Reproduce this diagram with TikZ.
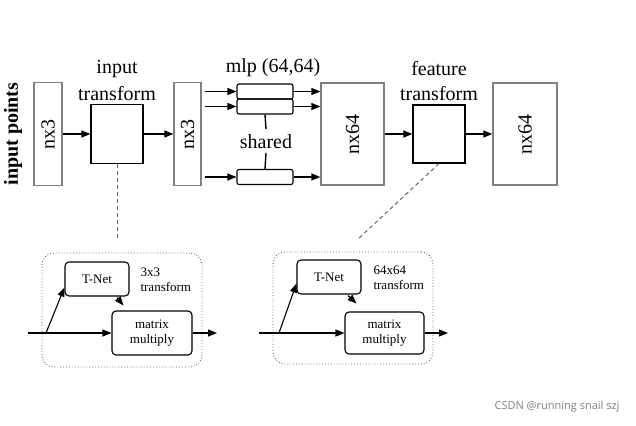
\documentclass[tikz,border=0pt]{standalone}
\usepackage{fontspec}
\setmainfont{Liberation Serif}
\newfontfamily\wmfont{Open Sans}
\usetikzlibrary{arrows.meta}
\begin{document}
\begin{tikzpicture}[x=1pt,y=-1pt,
  font=\fontsize{20}{22}\selectfont,
  bigbox/.style={draw=black!50, line width=1.3pt, inner sep=0pt},
  tbox/.style={draw=black, line width=1.2pt, inner sep=0pt},
  mbox/.style={draw=black, line width=1.1pt, rounded corners=2pt, minimum width=56pt, minimum height=15pt, inner sep=0pt},
  sbox/.style={draw=black, line width=1.1pt, rounded corners=4pt, inner sep=0pt, font=\fontsize{13}{15}\selectfont, align=center},
  dotbox/.style={draw=black!60, dotted, line width=0.9pt, rounded corners=12pt, inner sep=0pt},
  small/.style={font=\fontsize{13}{15}\selectfont, align=left},
  arr/.style={-{Triangle[length=9pt,width=7pt]}, line width=1.1pt},
  dashlink/.style={draw=black!60, line width=1pt, dash pattern=on 4pt off 3pt}]
\useasboundingbox (0,0) rectangle (636,425);

% top row
\node[font=\fontsize{20}{22}\selectfont\bfseries, rotate=90] (ip) at (13,134) {input points};
\node[bigbox, minimum width=28pt, minimum height=103pt] (a) at (48,134) {\rotatebox{90}{nx3}};
\node[tbox, minimum width=52pt, minimum height=59pt] (it) at (117,134) {};
\node (itl1) at (117,69) {input};
\node (itl2) at (117,94) {transform};
\node[bigbox, minimum width=27pt, minimum height=103pt] (b) at (187.5,134) {\rotatebox{90}{nx3}};
\node[mbox] (m1) at (265,91.5) {};
\node[mbox] (m2) at (265,106.5) {};
\node[mbox] (m3) at (265,177) {};
\node[inner sep=0pt] (sh) at (266,142) {shared};
\node (mlp) at (273,68) {mlp (64,64)};
\node[bigbox, minimum width=63pt, minimum height=102pt] (c) at (352.5,134) {\rotatebox{90}{nx64}};
\node[tbox, minimum width=52pt, minimum height=58pt] (ft) at (439,134) {};
\node (ftl1) at (439,69) {feature};
\node (ftl2) at (439,94) {transform};
\node[bigbox, minimum width=64pt, minimum height=102pt] (d) at (525,134) {\rotatebox{90}{nx64}};

\draw[arr] (a.east) -- (it.west);
\draw[arr] (it.east) -- (b.west);
\foreach \m in {m1,m2,m3}{
  \draw[arr] ([xshift=3pt]b.east |- \m.west) -- (\m.west);
  \draw[arr] (\m.east) -- (c.west |- \m.east);
}
\draw[line width=1.4pt] (m2.south) -- ([yshift=13pt]sh.center);
\draw[line width=1.4pt] ([yshift=-11pt]sh.center) -- (m3.north);
\draw[arr] (c.east) -- (ft.west);
\draw[arr] (ft.east) -- (d.west);

% dashed links
\coordinate (l1) at (117,238);
\coordinate (l2) at (358,239);
\draw[dashlink] (it.south) -- (l1);
\draw[dashlink] (ft.south) -- (l2);

% bottom left detail
\node[dotbox, minimum width=160pt, minimum height=114pt] (L) at (122,310) {};
\node[sbox, minimum width=64pt, minimum height=34pt] (tn1) at (97,279) {T-Net};
\node[small, anchor=west] (t1a) at (137,272) {3x3};
\node[small, anchor=west] (t1b) at (137,287) {transform};
\node[sbox, minimum width=80pt, minimum height=44pt] (mm1) at (152,333) {matrix\\multiply};
\coordinate (s1) at (28,333);
\coordinate (j1) at (46,333);
\coordinate (o1) at (217,333);
\draw[arr] (s1) -- (mm1.west);
\draw[arr] (mm1.east) -- (o1);
\draw[arr] (j1) -- ([yshift=9pt]tn1.south west);
\draw[arr] ([xshift=20pt,yshift=-1pt]tn1.south) -- ([xshift=12pt,yshift=5pt]mm1.north west);

% bottom right detail
\node[dotbox, minimum width=160pt, minimum height=112pt] (R) at (353,308) {};
\node[sbox, minimum width=64pt, minimum height=34pt] (tn2) at (329,277) {T-Net};
\node[small, anchor=west] (t2a) at (370,270) {64x64};
\node[small, anchor=west] (t2b) at (370,285) {transform};
\node[sbox, minimum width=79pt, minimum height=42pt] (mm2) at (384.5,333) {matrix\\multiply};
\coordinate (s2) at (259,333);
\coordinate (j2) at (279,333);
\coordinate (o2) at (448,333);
\draw[arr] (s2) -- (mm2.west);
\draw[arr] (mm2.east) -- (o2);
\draw[arr] (j2) -- ([yshift=11pt]tn2.south west);
\draw[arr] ([xshift=19pt,yshift=-1pt]tn2.south) -- ([xshift=12pt,yshift=8pt]mm2.north west);

% watermark
\node[font=\wmfont\fontsize{11}{13}\selectfont, text=black!50, anchor=east] (wm) at (623,407) {CSDN @running snail szj};
\end{tikzpicture}
\end{document}
